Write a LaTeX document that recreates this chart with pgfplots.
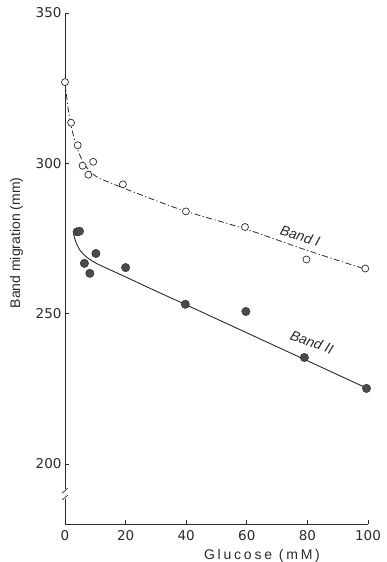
\documentclass[border=0pt]{standalone}
\usepackage{fontspec}
\setmainfont{Liberation Sans}
\newfontfamily\spaced[LetterSpace=20]{Liberation Sans}
\newfontfamily\ticks{DejaVu Sans}
\usepackage{pgfplots}
\pgfplotsset{compat=1.18}
\definecolor{ink}{HTML}{2A2A2A}
\pgfplotstableread{
x y
0 327
2 313.5
4.2 306
5.8 299.2
7.7 296.2
9.3 300.5
19.1 293
39.9 284
59.4 278.8
79.7 268
99.1 265
}\bandIpts
\pgfplotstableread{
x y
4 277.2
4.8 277.4
6.4 266.7
8.2 263.4
10.2 270.0
20 265.3
39.7 253.1
59.7 250.7
79 235.4
99.5 225.1
}\bandIIpts
\pgfplotstableread{
x y
0 327
1 318.5
2 312.5
4 305
6 300.4
8 297.6
10 295.8
13 294.3
20 291.5
30 287.6
40 284
60 278
80 271
100 264.5
}\bandIcurve
\pgfplotstableread{
x y
2.8 276.6
3.6 273.8
5 271
7 268.9
10 266.9
15 264.5
20 262.2
30 257.5
40 252.9
60 243.6
80 234.3
100 225
}\bandIIcurve
\begin{document}
\begin{tikzpicture}
\useasboundingbox (-65pt,-38pt) rectangle (321pt,524pt);
\begin{axis}[
  scale only axis,
  width=303pt, height=511pt,
  xmin=0, xmax=100, ymin=180, ymax=350,
  axis lines=left,
  axis line style={-, ink, line width=0.7pt},
  xtick={0,20,40,60,80,100},
  ytick={200,250,300,350},
  tick style={ink, line width=0.7pt},
  tick align=inside,
  major tick length=4pt,
  minor tick num=0,
  /pgf/number format/assume math mode=true,
  tick label style={font=\ticks\fontsize{13.5}{15}\selectfont, text=ink},
  xticklabel style={yshift=-3pt},
  xlabel={\spaced Glucose (mM)},
  ylabel={Band migration (mm)},
  label style={font=\fontsize{14}{15}\selectfont, text=ink},
  xlabel style={at={(axis description cs:0.65,-0.063)}, anchor=center},
  ylabel style={at={(axis description cs:-0.16,0.55)}, anchor=center},
  clip=false,
]
\addplot[ink, line width=0.8pt, dash pattern=on 6pt off 2.5pt on 1.2pt off 2.5pt, smooth, tension=0.5] table {\bandIcurve};
\addplot[ink, line width=0.9pt, smooth, tension=0.5] table {\bandIIcurve};
\addplot[only marks, mark=*, mark size=3.5pt, mark options={fill=white, draw=ink, line width=0.7pt}] table {\bandIpts};
\addplot[only marks, mark=*, mark size=4.2pt, mark options={fill=ink!85, draw=ink}] table {\bandIIpts};
\node[rotate=-17, text=ink, font=\itshape\fontsize{14}{15}\selectfont] at (axis cs:77.6,275.8) {Band I};
\node[rotate=-20, text=ink, font=\itshape\fontsize{14}{15}\selectfont] at (axis cs:81.5,240.5) {Band II};
% axis break
\fill[white] (axis cs:-1.5,188.2) rectangle (axis cs:1.5,191.6);
\draw[ink, line width=0.7pt] (axis cs:-0.9,188.0) -- (axis cs:0.9,189.6);
\draw[ink, line width=0.7pt] (axis cs:-0.9,190.3) -- (axis cs:0.9,191.9);
\end{axis}
\end{tikzpicture}
\end{document}
